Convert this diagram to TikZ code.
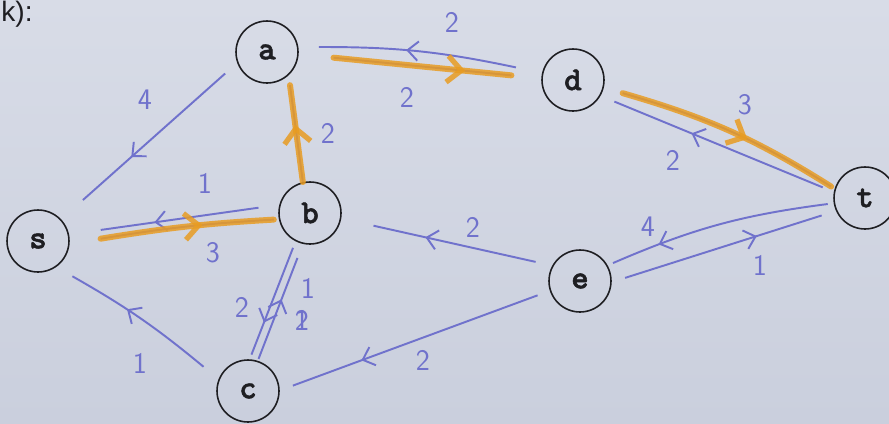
\documentclass[tikz,border=0pt]{standalone}
\usepackage{fontspec}
\newfontfamily\printfont{Liberation Sans}
\newfontfamily\nodefont{lmmonolt10-bold.otf}[FakeBold=1.5]
\usepackage{tikz}
\usetikzlibrary{arrows.meta,calc,decorations.markings}
\definecolor{paperhi}{RGB}{216,220,231}
\definecolor{paperlo}{RGB}{202,207,221}
\definecolor{pen}{RGB}{112,114,204}
\definecolor{marker}{RGB}{232,156,34}
\definecolor{ink}{RGB}{30,30,34}
\tikzset{
  vertex/.style={
    circle, draw=ink, line width=0.9pt, minimum size=1.24cm,
    inner sep=0pt, text=ink,
    font=\fontsize{19}{22}\selectfont\nodefont
  },
  flow/.style={
    draw=pen, line width=1.1pt,
    postaction={decorate, decoration={markings,
      mark=at position #1 with {\arrow{Straight Barb[length=6pt,width=11pt]}}}}
  },
  flow/.default=0.5,
  core/.style={draw=pen, line width=1.1pt},
  augment/.style={
    draw=marker, line width=3.4pt, line cap=round, draw opacity=0.85,
    postaction={decorate, decoration={markings,
      mark=at position #1 with {\arrow{Straight Barb[length=8pt,width=15pt,line width=3pt]}}}}
  },
  augment/.default=0.5,
  weight/.style={
    text=pen, inner sep=1pt,
    font=\fontsize{17}{20}\selectfont\sffamily
  },
}

\begin{document}
\begin{tikzpicture}[x=0.02cm, y=-0.02cm]
  % Paper
  \shade[top color=paperhi, bottom color=paperlo] (0,0) rectangle (889,423);
  \useasboundingbox (0,0) rectangle (889,423);
  \node[anchor=west, inner sep=0pt, text=ink, font=\fontsize{16}{18}\selectfont\printfont]
    (hdr) at (1,14) {k):};

  % Vertices
  \foreach \n/\x/\y in {a/267/52, d/573/80, b/310/213, s/38/241,
                        c/248/391, e/580/281, t/865/198} {
    \node[vertex] (\n) at (\x,\y) {\n};
  }

  % Residual edges
  \foreach \u/\ua/\v/\va/\g/\h/\b/\m in {
      a/200/s/43/0.32cm/0.58cm/0/0.66,
      b/165/s/12/0.42cm/0.64cm/0/0.66,
      d/162/a/13/0.54cm/0.42cm/-6/0.56,
      t/169/d/330/0.24cm/0.3cm/0/0.63,
      e/151/b/350/0.34cm/0.66cm/0/0.68,
      t/188/e/31/0.12cm/0.12cm/-8/0.78,
      e/358/t/204/0.28cm/0.3cm/0/0.67,
      b/243/c/87/0.14cm/0.1cm/0/0.7,
      c/72/b/257/0.04cm/0.3cm/0/0.59,
      c/155/s/308/0.38cm/0.36cm/-5/0.6,
      e/198/c/1/0.26cm/0.28cm/0/0.72} {
    \draw[flow=\m] ($(\u.\ua)!\g!(\v.\va)$) to[bend left=\b] ($(\v.\va)!\h!(\u.\ua)$);
  }

  % Augmenting path s-b-a-d-t
  \foreach \u/\ua/\v/\va/\g/\h/\b/\m in {
      s/358/b/191/0.62cm/0.1cm/3/0.59,
      b/103/a/313/0cm/0.2cm/0/0.59,
      a/356/d/177/0.7cm/0.6cm/0/0.74,
      d/351/t/162/0.4cm/0.08cm/8/0.58} {
    \draw[core] ($(\u.\ua)!\g!(\v.\va)$) to[bend left=\b] ($(\v.\va)!\h!(\u.\ua)$);
    \draw[augment=\m] ($(\u.\ua)!\g!(\v.\va)$) to[bend left=\b] ($(\v.\va)!\h!(\u.\ua)$);
  }

  % Capacities
  \foreach \w/\x/\y/\val in {w1/145/100/4, w2/205/183/1, w3/213/253/3,
                             w4/328/133/2, w5/407/97/2, w6/452/22/2,
                             w7/745/105/3, w8/673/160/2, w9/473/227/2,
                             w10/648/227/4, w11/760/265/1, w12/242/307/2,
                             w13/308/288/1, w14/140/363/1, w15/423/360/2} {
    \node[weight] (\w) at (\x,\y) {\val};
  }
  \node[weight] (w13b) at (302,320) {\makebox[0pt]{2}\makebox[0pt]{1}};
\end{tikzpicture}
\end{document}
